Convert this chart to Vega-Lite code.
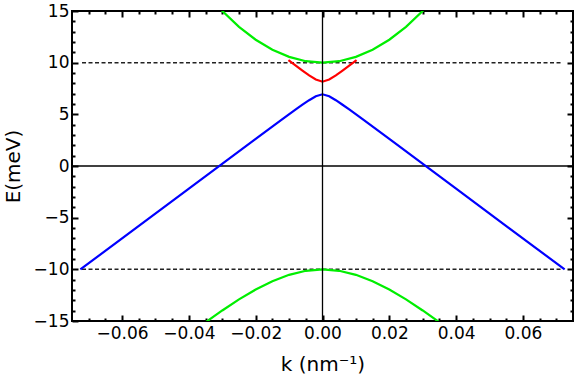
{
  "$schema": "https://vega.github.io/schema/vega-lite/v6.json",
  "width": 501,
  "height": 310,
  "autosize": {"type": "none"},
  "padding": {"left": 72, "top": 11, "right": 3, "bottom": 61},
  "background": "white",
  "config": {
    "view": {"stroke": "black", "strokeWidth": 2},
    "axis": {"grid": false, "domain": false, "labelFont": "DejaVu Sans", "titleFont": "DejaVu Sans", "labelFontSize": 17, "titleFontSize": 20, "titleFontWeight": "normal", "labelColor": "black", "titleColor": "black", "tickColor": "black", "tickWidth": 2}
  },
  "datasets": {
    "curves": [
      {"series": "blue", "k": -0.0725, "E": -10.01},
      {"series": "blue", "k": -0.04, "E": -2.19},
      {"series": "blue", "k": -0.02, "E": 2.62},
      {"series": "blue", "k": -0.012, "E": 4.53},
      {"series": "blue", "k": -0.008, "E": 5.47},
      {"series": "blue", "k": -0.006, "E": 5.93},
      {"series": "blue", "k": -0.004, "E": 6.37},
      {"series": "blue", "k": -0.002, "E": 6.75},
      {"series": "blue", "k": 0, "E": 6.94},
      {"series": "blue", "k": 0.002, "E": 6.75},
      {"series": "blue", "k": 0.004, "E": 6.37},
      {"series": "blue", "k": 0.006, "E": 5.93},
      {"series": "blue", "k": 0.008, "E": 5.47},
      {"series": "blue", "k": 0.012, "E": 4.53},
      {"series": "blue", "k": 0.02, "E": 2.62},
      {"series": "blue", "k": 0.04, "E": -2.19},
      {"series": "blue", "k": 0.0725, "E": -10.01},
      {"series": "greenTop", "k": -0.031, "E": 15.34},
      {"series": "greenTop", "k": -0.03, "E": 15.0},
      {"series": "greenTop", "k": -0.025, "E": 13.47},
      {"series": "greenTop", "k": -0.02, "E": 12.22},
      {"series": "greenTop", "k": -0.015, "E": 11.25},
      {"series": "greenTop", "k": -0.01, "E": 10.56},
      {"series": "greenTop", "k": -0.005, "E": 10.14},
      {"series": "greenTop", "k": 0, "E": 10.0},
      {"series": "greenTop", "k": 0.005, "E": 10.14},
      {"series": "greenTop", "k": 0.01, "E": 10.56},
      {"series": "greenTop", "k": 0.015, "E": 11.25},
      {"series": "greenTop", "k": 0.02, "E": 12.22},
      {"series": "greenTop", "k": 0.025, "E": 13.47},
      {"series": "greenTop", "k": 0.03, "E": 15.0},
      {"series": "greenTop", "k": 0.031, "E": 15.34},
      {"series": "greenBot", "k": -0.035, "E": -15.12},
      {"series": "greenBot", "k": -0.03, "E": -13.98},
      {"series": "greenBot", "k": -0.025, "E": -12.91},
      {"series": "greenBot", "k": -0.02, "E": -11.96},
      {"series": "greenBot", "k": -0.015, "E": -11.15},
      {"series": "greenBot", "k": -0.01, "E": -10.53},
      {"series": "greenBot", "k": -0.005, "E": -10.14},
      {"series": "greenBot", "k": 0, "E": -10.0},
      {"series": "greenBot", "k": 0.005, "E": -10.14},
      {"series": "greenBot", "k": 0.01, "E": -10.53},
      {"series": "greenBot", "k": 0.015, "E": -11.15},
      {"series": "greenBot", "k": 0.02, "E": -11.96},
      {"series": "greenBot", "k": 0.025, "E": -12.91},
      {"series": "greenBot", "k": 0.03, "E": -13.98},
      {"series": "greenBot", "k": 0.035, "E": -15.12},
      {"series": "red", "k": -0.0102, "E": 10.25},
      {"series": "red", "k": -0.008, "E": 9.71},
      {"series": "red", "k": -0.006, "E": 9.24},
      {"series": "red", "k": -0.004, "E": 8.77},
      {"series": "red", "k": -0.002, "E": 8.37},
      {"series": "red", "k": 0, "E": 8.16},
      {"series": "red", "k": 0.002, "E": 8.37},
      {"series": "red", "k": 0.004, "E": 8.77},
      {"series": "red", "k": 0.006, "E": 9.24},
      {"series": "red", "k": 0.008, "E": 9.71},
      {"series": "red", "k": 0.0102, "E": 10.25}
    ],
    "dashes": [
      {"k1": -0.072, "k2": 0.072, "E": 10},
      {"k1": -0.072, "k2": 0.072, "E": -10}
    ],
    "zeroK": [{"k": 0}],
    "zeroE": [{"E": 0}]
  },
  "layer": [
    {
      "data": {"name": "dashes"},
      "mark": {"type": "rule", "color": "#222222", "strokeWidth": 1.5, "strokeDash": [4, 2.5]},
      "encoding": {
        "x": {"field": "k1", "type": "quantitative", "axis": null},
        "x2": {"field": "k2"},
        "y": {"field": "E", "type": "quantitative", "axis": null}
      }
    },
    {
      "data": {"name": "zeroE"},
      "mark": {"type": "rule", "color": "black", "strokeWidth": 1.3},
      "encoding": {
        "y": {"field": "E", "type": "quantitative",
          "axis": {"orient": "right", "labels": false, "title": null,
            "values": [-14,-13,-12,-11,-10,-9,-8,-7,-6,-5,-4,-3,-2,-1,0,1,2,3,4,5,6,7,8,9,10,11,12,13,14],
            "tickSize": {"condition": {"test": "abs(datum.value/5 - round(datum.value/5)) < 0.001", "value": -6}, "value": -3}}}
      }
    },
    {
      "data": {"name": "curves"},
      "mark": {"type": "line", "strokeWidth": 2.2, "clip": true},
      "encoding": {
        "x": {"field": "k", "type": "quantitative", "scale": {"domain": [-0.075, 0.075], "nice": false, "zero": false},
          "axis": {"orient": "bottom", "title": "k (nm⁻¹)", "titlePadding": 13, "labelPadding": 10,
            "values": [-0.07,-0.065,-0.06,-0.055,-0.05,-0.045,-0.04,-0.035,-0.03,-0.025,-0.02,-0.015,-0.01,-0.005,0,0.005,0.01,0.015,0.02,0.025,0.03,0.035,0.04,0.045,0.05,0.055,0.06,0.065,0.07],
            "labelExpr": "abs(datum.value*50 - round(datum.value*50)) < 0.001 ? format(datum.value, '.2f') : ''",
            "tickSize": {"condition": {"test": "abs(datum.value*50 - round(datum.value*50)) < 0.001", "value": -6}, "value": -3}}},
        "y": {"field": "E", "type": "quantitative", "scale": {"domain": [-15, 15], "nice": false},
          "axis": {"orient": "left", "title": "E(meV)", "titlePadding": 10, "labelPadding": 9,
            "values": [-14,-13,-12,-11,-10,-9,-8,-7,-6,-5,-4,-3,-2,-1,0,1,2,3,4,5,6,7,8,9,10,11,12,13,14,15,-15],
            "labelExpr": "abs(datum.value/5 - round(datum.value/5)) < 0.001 ? format(datum.value, 'd') : ''",
            "tickSize": {"condition": {"test": "abs(datum.value/5 - round(datum.value/5)) < 0.001", "value": -6}, "value": -3}}},
        "detail": {"field": "series"},
        "color": {"field": "series", "type": "nominal", "legend": null,
          "scale": {"domain": ["blue", "greenTop", "greenBot", "red"], "range": ["#0000FF", "#00EE00", "#00EE00", "#FF0000"]}}
      }
    },
    {
      "data": {"name": "zeroK"},
      "mark": {"type": "rule", "color": "black", "strokeWidth": 1.3},
      "encoding": {
        "x": {"field": "k", "type": "quantitative",
          "axis": {"orient": "top", "labels": false, "title": null,
            "values": [-0.07,-0.065,-0.06,-0.055,-0.05,-0.045,-0.04,-0.035,-0.03,-0.025,-0.02,-0.015,-0.01,-0.005,0,0.005,0.01,0.015,0.02,0.025,0.03,0.035,0.04,0.045,0.05,0.055,0.06,0.065,0.07],
            "tickSize": {"condition": {"test": "abs(datum.value*50 - round(datum.value*50)) < 0.001", "value": -6}, "value": -3}}}
      }
    }
  ],
  "resolve": {"axis": {"x": "independent", "y": "independent"}}
}
